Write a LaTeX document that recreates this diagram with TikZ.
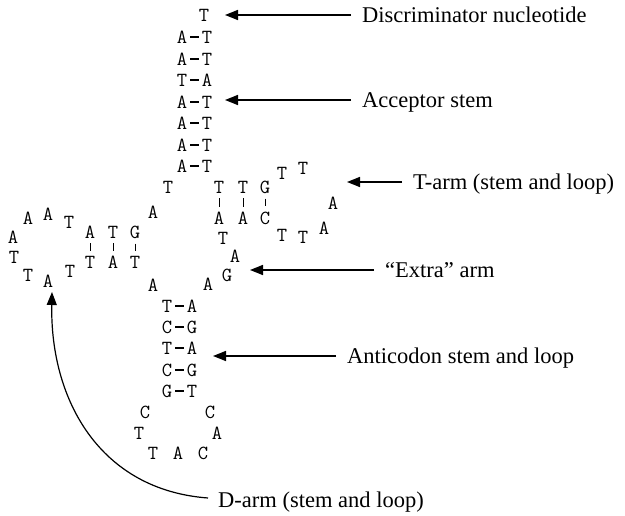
\documentclass[tikz,border=0pt]{standalone}
\usepackage{fontspec}
\setmainfont{Liberation Serif}
\usetikzlibrary{arrows.meta}
\begin{document}
\begin{tikzpicture}[x=1pt,y=-1pt,
  nt/.style={font=\ttfamily\fontsize{20}{20}\selectfont, inner sep=0pt},
  lab/.style={font=\fontsize{22.5}{27}\selectfont, inner sep=0pt, anchor=base west},
  arr/.style={line width=1.5pt, shorten <=11pt, -{Triangle[length=13pt,width=10pt]}},
  curvearr/.style={line width=1.2pt, -{Triangle[length=13pt,width=10pt]}},
  pair/.style={line width=1.1pt, shorten <=3pt, shorten >=3pt},
  bar/.style={line width=0.8pt, shorten <=5pt, shorten >=5pt}]
\useasboundingbox (0,0) rectangle (625,516);

% acceptor stem
\node[nt] (t0) at (204,15) {T};
\foreach \i/\y/\l/\r in {1/37/A/T,2/59/A/T,3/80/T/A,4/102/A/T,5/123/A/T,6/145/A/T,7/166/A/T}{
  \node[nt] (aL\i) at (182,\y) {\l};
  \node[nt] (aR\i) at (207,\y) {\r};
  \draw[pair] (aL\i) -- (aR\i);
}

% junction
\node[nt] (j1) at (168,187) {T};
\node[nt] (j2) at (153,212) {A};

% T-arm stem
\node[nt] (tu1) at (219,187) {T};
\node[nt] (tu2) at (243,187) {T};
\node[nt] (tu3) at (265,187) {G};
\node[nt] (tl1) at (219,218) {A};
\node[nt] (tl2) at (243,218) {A};
\node[nt] (tl3) at (265,218) {C};
\foreach \i in {1,2,3}{\draw[bar] (tu\i) -- (tl\i);}
% T loop
\node[nt] (tp1) at (282,173) {T};
\node[nt] (tp2) at (303,168) {T};
\node[nt] (tp3) at (333,203) {A};
\node[nt] (tp4) at (324,228) {A};
\node[nt] (tp5) at (303,237) {T};
\node[nt] (tp6) at (282,235) {T};

% extra arm
\node[nt] (e1) at (223,238) {T};
\node[nt] (e2) at (235,256) {A};
\node[nt] (e3) at (227,275) {G};
\node[nt] (e4) at (208,284) {A};
\node[nt] (e5) at (153,285) {A};

% D-arm stem
\node[nt] (du1) at (90,232) {A};
\node[nt] (du2) at (113,232) {T};
\node[nt] (du3) at (135,232) {G};
\node[nt] (dl1) at (90,262) {T};
\node[nt] (dl2) at (113,262) {A};
\node[nt] (dl3) at (135,262) {T};
\foreach \i in {1,2,3}{\draw[bar] (du\i) -- (dl\i);}
% D loop
\node[nt] (dp1) at (69,222) {T};
\node[nt] (dp2) at (48,214) {A};
\node[nt] (dp3) at (28,218) {A};
\node[nt] (dp4) at (13,237) {A};
\node[nt] (dp5) at (14,257) {T};
\node[nt] (dp6) at (28,275) {T};
\node[nt] (dp7) at (48,281) {A};
\node[nt] (dp8) at (70,271) {T};

% anticodon stem
\foreach \i/\y/\l/\r in {1/306/T/A,2/327/C/G,3/348/T/A,4/370/C/G,5/391/G/T}{
  \node[nt] (cL\i) at (167,\y) {\l};
  \node[nt] (cR\i) at (192,\y) {\r};
  \draw[pair] (cL\i) -- (cR\i);
}
% anticodon loop
\node[nt] (cp1) at (145,412) {C};
\node[nt] (cp2) at (139,433) {T};
\node[nt] (cp3) at (153,453) {T};
\node[nt] (cp4) at (178,453) {A};
\node[nt] (cp5) at (203,453) {C};
\node[nt] (cp6) at (217,433) {A};
\node[nt] (cp7) at (210,412) {C};

% labels
\node[lab] (ldisc) at (362,22.5) {Discriminator nucleotide};
\node[lab] (lacc) at (362,107.5) {Acceptor stem};
\node[lab] (ltarm) at (413,189.5) {T-arm (stem and loop)};
\node[lab] (lextra) at (385,277.5) {“Extra” arm};
\node[lab] (lanti) at (347,363.5) {Anticodon stem and loop};
\node[lab] (ldarm) at (218,507) {D-arm (stem and loop)};

% arrow tips
\coordinate (pdisc) at (225,15);
\coordinate (pacc) at (225,100);
\coordinate (ptarm) at (347,182);
\coordinate (pextra) at (250,270);
\coordinate (panti) at (213,356);
\coordinate (dtail) at (208,498);
\coordinate (dtip) at (52,292);

\draw[arr] (ldisc.west |- pdisc) -- (pdisc);
\draw[arr] (lacc.west |- pacc) -- (pacc);
\draw[arr] (ltarm.west |- ptarm) -- (ptarm);
\draw[arr] (lextra.west |- pextra) -- (pextra);
\draw[arr] (lanti.west |- panti) -- (panti);
\draw[curvearr] (dtail) .. controls (100,490) and (50,400) .. (dtip);
\end{tikzpicture}
\end{document}
